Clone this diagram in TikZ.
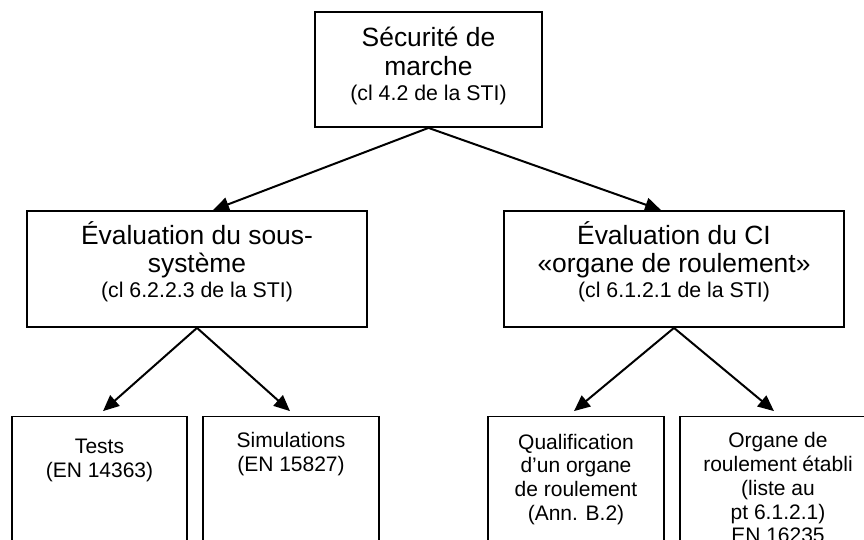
\documentclass[tikz,border=0pt]{standalone}
\usepackage{fontspec}
\setmainfont{Liberation Sans}
\usetikzlibrary{arrows.meta}
\newcommand\BigTxt{\fontsize{26.4}{28.5}\selectfont}
\newcommand\SmTxt{\fontsize{21.3}{24}\selectfont}
\newcommand\LowTxt{\fontsize{21}{23.7}\selectfont}
\begin{document}
\begin{tikzpicture}[x=1pt,y=-1pt,
  box/.style={draw, line width=1.8pt, rectangle, inner sep=0pt},
  bigtxt/.style={align=center, inner sep=0pt, anchor=north, font=\BigTxt},
  lowtxt/.style={align=center, inner sep=0pt, anchor=north, font=\LowTxt},
  arr/.style={line width=2pt, -{Triangle[length=16pt,width=14pt]}}]
\useasboundingbox (0,0) rectangle (864,540);
\clip (0,0) rectangle (864,540);
% boxes
\node[box, minimum width=227pt, minimum height=115pt] (top) at (428.5,69.5) {};
\node[box, minimum width=340pt, minimum height=116pt] (ml) at (197,269) {};
\node[box, minimum width=340pt, minimum height=116pt] (mr) at (674,269) {};
\node[box, minimum width=175pt, minimum height=144pt] (b1) at (99.5,488.5) {};
\node[box, minimum width=176pt, minimum height=144pt] (b2) at (291,488.5) {};
\node[box, minimum width=176pt, minimum height=144pt] (b3) at (576,488.5) {};
\node[box, minimum width=196pt, minimum height=144pt] (b4) at (778,488.5) {};
% texts
\node[bigtxt] (ttop) at (428.5,27.2) {Sécurité de\\marche\\[-3.5pt]{\SmTxt (cl 4.2 de la STI)}};
\node[bigtxt] (tml) at (197,221.4) {Évaluation du sous-\\système\\[-3.5pt]{\SmTxt (cl 6.2.2.3 de la STI)}};
\node[bigtxt] (tmr) at (674,221.4) {Évaluation du CI\\«organe de roulement»\\[-3.5pt]{\SmTxt (cl 6.1.2.1 de la STI)}};
\node[lowtxt] (tb1) at (99.5,439) {Tests\\(EN 14363)};
\node[lowtxt] (tb2) at (291,432) {Simulations\\(EN 15827)};
\node[lowtxt] (tb3) at (576,433.8) {Qualification\\d’un organe\\de roulement\\(Ann. B.2)};
\node[lowtxt] (tb4) at (778,432.5) {Organe de\\roulement établi\\(liste au\\pt 6.1.2.1)\\EN 16235};
% arrows
\draw[arr] (top.south) -- ([xshift=16pt]ml.north);
\draw[arr] (top.south) -- ([xshift=-13pt]mr.north);
\draw[arr] (ml.south) -- ([xshift=3.5pt,yshift=4.5pt]b1.north);
\draw[arr] (ml.south) -- ([xshift=-1pt,yshift=4.5pt]b2.north);
\draw[arr] (mr.south) -- ([xshift=-2pt,yshift=4.5pt]b3.north);
\draw[arr] (mr.south) -- ([xshift=-4pt,yshift=4.5pt]b4.north);
\end{tikzpicture}
\end{document}
